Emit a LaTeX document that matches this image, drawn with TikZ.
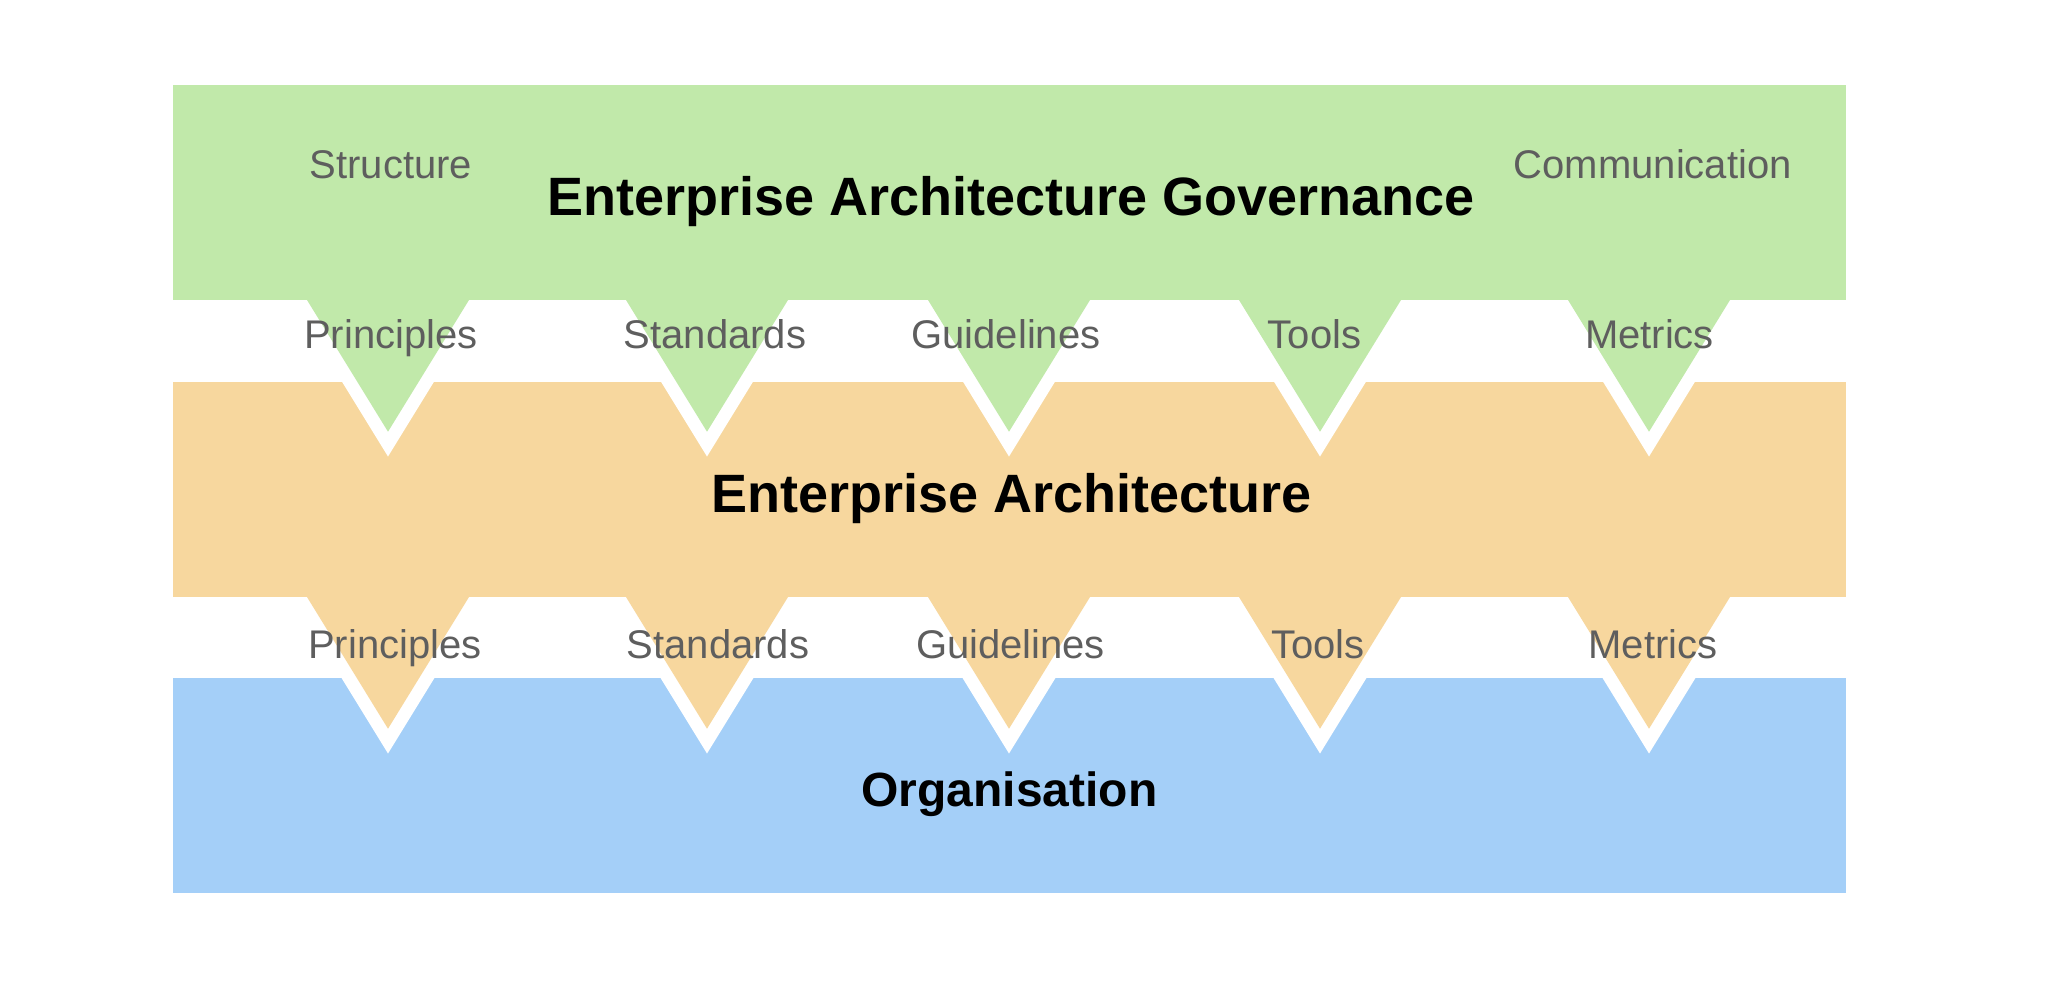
\documentclass[tikz,border=0pt]{standalone}
\usepackage{fontspec}
\setmainfont{Liberation Sans}
\definecolor{govgreen}{RGB}{193,233,170}
\definecolor{eaorange}{RGB}{247,215,158}
\definecolor{orgblue}{RGB}{164,207,248}
\definecolor{labelgray}{RGB}{94,94,94}
\begin{document}
\begin{tikzpicture}[x=0.5bp,y=-0.5bp,
  band/.style={draw=none,inner sep=0,outer sep=0,minimum width=836.5bp,minimum height=107.5bp},
  notchline/.style={draw=white,line width=13bp,miter limit=10,line join=miter},
  lbl/.style={anchor=base,inner sep=0,text=labelgray,font=\fontsize{20bp}{24bp}\selectfont},
  ttl/.style={anchor=base,inner sep=0,text=black,font=\fontsize{27bp}{32bp}\selectfont\bfseries}]
\useasboundingbox (0,0) rectangle (2048,984);
% bottom band
\node[band,fill=orgblue] (org) at (1009.5,785.5) {};
% orange triangles
\foreach \c in {388,707,1009,1320,1649}{
  \path[notchline] (\c-81,597) -- (\c+81,597) -- (\c,728.7) -- cycle;
  \fill[eaorange] (\c-81,597) -- (\c+81,597) -- (\c,728.7) -- cycle;
}
\node[band,fill=eaorange] (ea) at (1009.5,489.5) {};
% green triangles
\foreach \c in {388,707,1009,1320,1649}{
  \path[notchline] (\c-81,300) -- (\c+81,300) -- (\c,431.7) -- cycle;
  \fill[govgreen] (\c-81,300) -- (\c+81,300) -- (\c,431.7) -- cycle;
}
\node[band,fill=govgreen] (gov) at (1009.5,192.5) {};
% titles
\node[ttl] (tgov) at (1011,215) {Enterprise Architecture Governance};
\node[ttl] (tea) at (1011.5,512.7) {Enterprise Architecture};
\node[ttl,font=\fontsize{24bp}{28bp}\selectfont\bfseries] (torg) at (1009.5,806.7) {Organisation};
% governance side labels
\node[lbl] (structure) at (391,178.3) {Structure};
\node[lbl] (communication) at (1652.7,178.3) {Communication};
% row 1 labels
\node[lbl] (p1) at (391,348) {Principles};
\node[lbl] (s1) at (715,348) {Standards};
\node[lbl] (g1) at (1006,348) {Guidelines};
\node[lbl] (t1) at (1314.5,348) {Tools};
\node[lbl] (m1) at (1649.5,348) {Metrics};
% row 2 labels
\node[lbl] (p2) at (395,658.5) {Principles};
\node[lbl] (s2) at (718,658.5) {Standards};
\node[lbl] (g2) at (1010.5,658.5) {Guidelines};
\node[lbl] (t2) at (1318,658.5) {Tools};
\node[lbl] (m2) at (1653,658.5) {Metrics};
\end{tikzpicture}
\end{document}
